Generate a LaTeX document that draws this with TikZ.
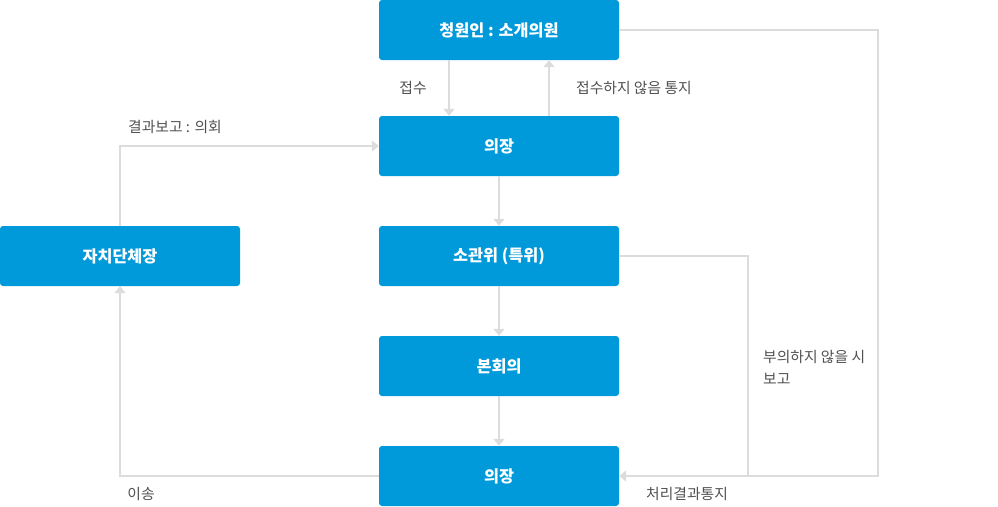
\documentclass[tikz,border=0pt]{standalone}
\usepackage{fontspec}
\setmainfont{Noto Sans CJK KR}
\usetikzlibrary{arrows.meta}
\definecolor{boxblue}{HTML}{0099DA}
\definecolor{linegray}{HTML}{DCDCDC}
\definecolor{labelgray}{HTML}{505050}
\begin{document}
\begin{tikzpicture}[x=1pt,y=-1pt,
  box/.style={fill=boxblue,rounded corners=3pt,minimum width=240pt,minimum height=60pt,inner sep=0pt,text=white,font=\fontsize{16.3}{18}\selectfont\bfseries},
  conn/.style={draw=linegray,line width=2pt,-{Triangle[width=11pt,length=7pt]}},
  plain/.style={draw=linegray,line width=2pt},
  lbl/.style={text=labelgray,font=\fontsize{14.8}{22}\selectfont,inner sep=0pt}]
\useasboundingbox (0,0) rectangle (998,506);
\node[box] (top) at (499,30) {청원인 : 소개의원};
\node[box] (chair1) at (499,146) {의장};
\node[box] (comm) at (499,256) {소관위 (특위)};
\node[box] (plen) at (499,366) {본회의};
\node[box] (chair2) at (499,476) {의장};
\node[box] (mayor) at (120,256) {자치단체장};
% top <-> chair1
\draw[conn] ([xshift=-50pt]top.south) -- ([xshift=-50pt]chair1.north);
\draw[conn] ([xshift=50pt]chair1.north) -- ([xshift=50pt]top.south);
\node[lbl] (l1) at (413,88) {접수};
\node[lbl,anchor=west] (l2) at (576,88) {접수하지 않음 통지};
% vertical chain
\draw[conn] (chair1.south) -- (comm.north);
\draw[conn] (comm.south) -- (plen.north);
\draw[conn] (plen.south) -- (chair2.north);
% right loops
\coordinate (c1) at (878,30);
\coordinate (c2) at (878,476);
\coordinate (c3) at (748,256);
\coordinate (c4) at (748,476);
\draw[plain] (top.east) -- (c1) -- (c2) -- (c4);
\draw[plain] (comm.east) -- (c3) -- (c4);
\draw[conn] (c4) -- (chair2.east);
\node[lbl,anchor=west,align=left] (l3) at (763,367) {부의하지 않을 시\\보고};
\node[lbl,anchor=west] (l4) at (646,494) {처리결과통지};
% left loop
\coordinate (c5) at (120,476);
\coordinate (c6) at (120,146);
\draw[conn] (chair2.west) -- (c5) -- (mayor.south);
\draw[conn] (mayor.north) -- (c6) -- (chair1.west);
\node[lbl] (l5) at (141,494) {이송};
\node[lbl,anchor=west] (l6) at (128,127) {결과보고 : 의회};
\end{tikzpicture}
\end{document}
